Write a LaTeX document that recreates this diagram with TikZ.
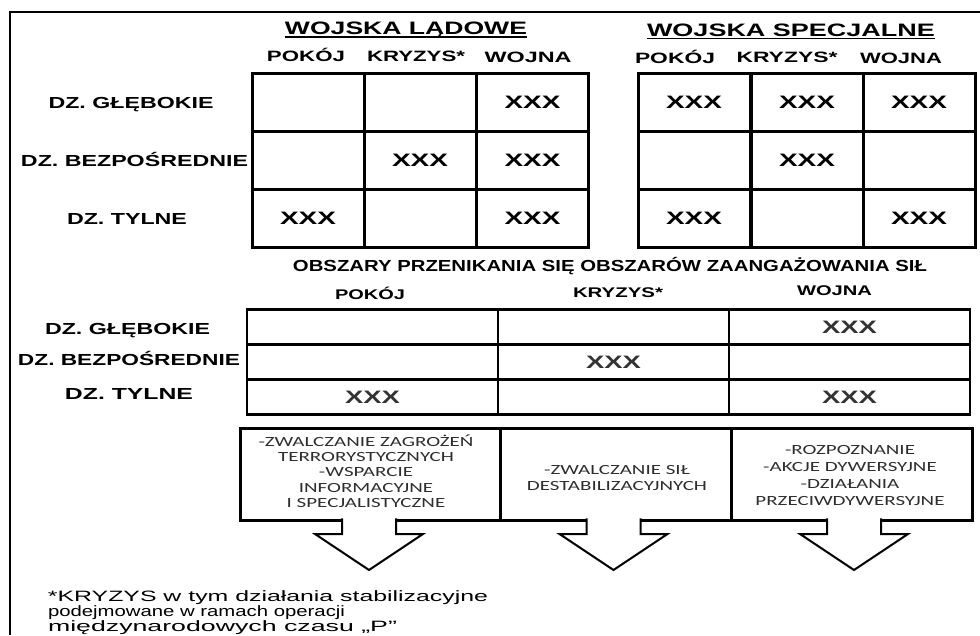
\documentclass[tikz,border=0pt]{standalone}
\usepackage{fontspec}
\setmainfont{Liberation Sans}
\newfontfamily\boxfont[FakeStretch=1.5]{Carlito}
\usetikzlibrary{calc}
\newcommand\fw[2]{\resizebox{#1pt}{\height}{#2}}
\newcommand\blockarrow[2]{%
  \draw[arrowline] ($(#1.south)+(#2-27,-1.6)$) -- ++(0,15.6) -- ++(-27,0)
    -- ($(#1.south)+(#2,50)$) -- ($(#1.south)+(#2+54,14)$) -- ++(-27,0)
    -- ($(#1.south)+(#2+27,-1.6)$);}
\begin{document}
\begin{tikzpicture}[x=1pt,y=-1pt,
  txt/.style={inner sep=0pt, outer sep=0pt, anchor=base},
  title/.style={txt, font=\bfseries\fontsize{18}{18}\selectfont},
  colhead/.style={txt, font=\bfseries\fontsize{15}{15}\selectfont},
  rowlbl/.style={txt, font=\bfseries\fontsize{16}{16}\selectfont},
  midhead/.style={txt, font=\bfseries\fontsize{14}{14}\selectfont},
  note/.style={inner sep=0pt, outer sep=0pt, anchor=base west, font=\fontsize{15}{15}\selectfont},
  cell/.style={draw, line width=3pt, inner sep=0pt, outer sep=0pt,
    font=\bfseries\fontsize{18}{18}\selectfont},
  mcell/.style={draw, line width=2.5pt, inner sep=0pt, outer sep=0pt,
    minimum height=35pt, text=black!80, font=\bfseries\fontsize{18}{18}\selectfont},
  bx/.style={draw, line width=3pt, inner sep=0pt, outer sep=0pt, minimum height=92pt},
  bxtxt/.style={inner sep=0pt, outer sep=0pt, align=center, text=black!82,
    font=\boxfont\fontsize{14}{15.4}\selectfont},
  arrowline/.style={draw, line width=2pt, fill=white, line join=miter},
  uline/.style={line width=1.6pt}
]
\useasboundingbox (0,0) rectangle (980,635);
% outer frame (top and left edges)
\draw[line width=1.5pt] (10,635) -- (10,12) -- (980,12);

% ---------- titles ----------
\node[title] (tL) at (406,34.5) {\fw{242}{WOJSKA LĄDOWE}};
\node[title] (tS) at (791,36) {\fw{288}{WOJSKA SPECJALNE}};
\draw[uline] ([yshift=-2.3pt]tL.base west) -- ([yshift=-2.3pt]tL.base east);
\draw[uline] ([yshift=-2.3pt]tS.base west) -- ([yshift=-2.3pt]tS.base east);

% column heads
\node[colhead] (hL1) at (306,61) {\fw{78}{POKÓJ}};
\node[colhead] (hL2) at (416,61) {\fw{98}{KRYZYS*}};
\node[colhead] (hL3) at (528,62) {\fw{87}{WOJNA}};
\node[colhead] (hS1) at (675,63) {\fw{80}{POKÓJ}};
\node[colhead] (hS2) at (787,62) {\fw{101}{KRYZYS*}};
\node[colhead] (hS3) at (901,63) {\fw{82}{WOJNA}};

% row labels
\node[rowlbl] (r1) at (131,108) {\fw{165}{DZ. GŁĘBOKIE}};
\node[rowlbl] (r2) at (134.5,166) {\fw{227}{DZ. BEZPOŚREDNIE}};
\node[rowlbl] (r3) at (127,224) {\fw{120}{DZ. TYLNE}};

% ---------- land forces table ----------
\tikzset{cw1/.style={cell, minimum width=112pt, minimum height=57.7pt}}
\node[cw1] (L11) at (308,102.8) {};
\node[cw1] (L12) at (420,102.8) {};
\node[cw1] (L13) at (532.5,102.8) {\fw{56}{XXX}};
\node[cw1] (L21) at (308,160.5) {};
\node[cw1] (L22) at (420,160.5) {\fw{56}{XXX}};
\node[cw1] (L23) at (532.5,160.5) {\fw{56}{XXX}};
\node[cw1] (L31) at (308,218.2) {\fw{56}{XXX}};
\node[cw1] (L32) at (420,218.2) {};
\node[cw1] (L33) at (532.5,218.2) {\fw{56}{XXX}};

% ---------- special forces table ----------
\node[cw1] (S11) at (694,102.8) {\fw{56}{XXX}};
\node[cw1] (S12) at (807,102.8) {\fw{56}{XXX}};
\node[cw1] (S13) at (919,102.8) {\fw{56}{XXX}};
\node[cw1] (S21) at (694,160.5) {};
\node[cw1] (S22) at (807,160.5) {\fw{56}{XXX}};
\node[cw1] (S23) at (919,160.5) {};
\node[cw1] (S31) at (694,218.2) {\fw{56}{XXX}};
\node[cw1] (S32) at (807,218.2) {};
\node[cw1] (S33) at (919,218.2) {\fw{56}{XXX}};

% ---------- middle section ----------
\node[rowlbl] (mt) at (610,271) {\fw{634}{OBSZARY PRZENIKANIA SIĘ OBSZARÓW ZAANGAŻOWANIA SIŁ}};
\node[midhead] (mh1) at (370,299) {\fw{70}{POKÓJ}};
\node[midhead] (mh2) at (618,297) {\fw{90}{KRYZYS*}};
\node[midhead] (mh3) at (834.5,295) {\fw{75}{WOJNA}};

\node[rowlbl] (mr1) at (127.5,334) {\fw{165}{DZ. GŁĘBOKIE}};
\node[rowlbl] (mr2) at (129,365) {\fw{222}{DZ. BEZPOŚREDNIE}};
\node[rowlbl] (mr3) at (129,399) {\fw{128}{DZ. TYLNE}};

\node[mcell, minimum width=251pt] (M11) at (372.5,327) {};
\node[mcell, minimum width=231pt] (M12) at (613.5,327) {};
\node[mcell, minimum width=241pt] (M13) at (849.5,327) {\fw{55}{XXX}};
\node[mcell, minimum width=251pt] (M21) at (372.5,362) {};
\node[mcell, minimum width=231pt] (M22) at (613.5,362) {\fw{55}{XXX}};
\node[mcell, minimum width=241pt] (M23) at (849.5,362) {};
\node[mcell, minimum width=251pt] (M31) at (372.5,397) {\fw{55}{XXX}};
\node[mcell, minimum width=231pt] (M32) at (613.5,397) {};
\node[mcell, minimum width=241pt] (M33) at (849.5,397) {\fw{55}{XXX}};

% ---------- task boxes ----------
\node[bx, minimum width=260pt] (B1) at (370,474) {};
\node[bx, minimum width=231pt] (B2) at (615.5,474) {};
\node[bx, minimum width=241pt] (B3) at (851.5,474) {};

\node[bxtxt] (T1) at (366,471) {-ZWALCZANIE ZAGROŻEŃ\\ TERRORYSTYCZNYCH\\ -WSPARCIE\\
  INFORMACYJNE\\ I SPECJALISTYCZNE};
\node[bxtxt] (T2) at (617,478) {-ZWALCZANIE SIŁ\\ DESTABILIZACYJNYCH};
\node[bxtxt, font=\boxfont\fontsize{14}{16.8}\selectfont] (T3) at (850,475.5)
  {-ROZPOZNANIE\\ -AKCJE DYWERSYJNE\\ -DZIAŁANIA\\ PRZECIWDYWERSYJNE};

\blockarrow{B1}{-1}
\blockarrow{B2}{-2}
\blockarrow{B3}{2.5}

% ---------- footnote ----------
\node[note] (n1) at (48,601) {\fw{440}{*KRYZYS w tym działania stabilizacyjne}};
\node[note] (n2) at (48,616.5) {\fw{297}{podejmowane w ramach operacji}};
\node[note] (n3) at (48,631) {\fw{349}{międzynarodowych czasu „P”}};
\end{tikzpicture}
\end{document}
